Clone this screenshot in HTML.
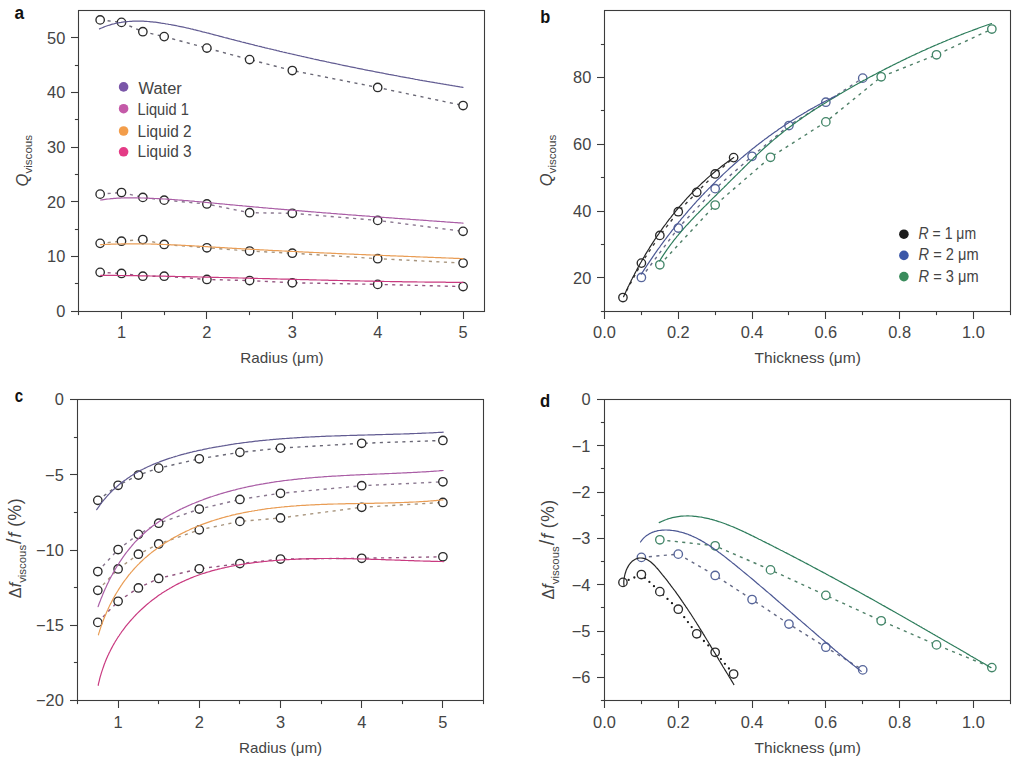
<!DOCTYPE html><html><head><meta charset="utf-8"><title>Figure</title><style>html,body{margin:0;padding:0;background:#fff;width:1024px;height:762px;overflow:hidden}svg{display:block}.tl{font-size:16.4px;fill:#444444}.lab{font-size:15px;fill:#444444}.lg{font-size:15px;fill:#444444}.pl{font-size:18px;font-weight:bold;fill:#111}text{font-family:"Liberation Sans", "DejaVu Sans", sans-serif}</style></head><body>
<svg width="1024" height="762" viewBox="0 0 1024 762">
<rect width="1024" height="762" fill="#fff"/>
<text x="14.4" y="18.6" class="pl" textLength="9.6" lengthAdjust="spacingAndGlyphs">a</text>
<text x="540.2" y="23.4" class="pl" textLength="10" lengthAdjust="spacingAndGlyphs">b</text>
<text x="14.8" y="401.6" class="pl" textLength="8.4" lengthAdjust="spacingAndGlyphs">c</text>
<text x="540.0" y="407.2" class="pl" textLength="10.2" lengthAdjust="spacingAndGlyphs">d</text>
<g stroke="#3c3c3c" stroke-width="1.1" fill="none">
<rect x="78.5" y="10.5" width="406" height="301" fill="none" stroke="#3c3c3c" stroke-width="1.1"/>
<rect x="604.5" y="10.5" width="406" height="301" fill="none" stroke="#3c3c3c" stroke-width="1.1"/>
<rect x="77.5" y="399.5" width="406" height="301" fill="none" stroke="#3c3c3c" stroke-width="1.1"/>
<rect x="604.5" y="399.5" width="406" height="301" fill="none" stroke="#3c3c3c" stroke-width="1.1"/>
</g>
<g stroke="#3c3c3c" stroke-width="1.1">
<line x1="121.5" y1="311.5" x2="121.5" y2="319"/>
<line x1="206.5" y1="311.5" x2="206.5" y2="319"/>
<line x1="292.5" y1="311.5" x2="292.5" y2="319"/>
<line x1="377.5" y1="311.5" x2="377.5" y2="319"/>
<line x1="463.5" y1="311.5" x2="463.5" y2="319"/>
<line x1="78.5" y1="311.5" x2="78.5" y2="315.1"/>
<line x1="164.5" y1="311.5" x2="164.5" y2="315.1"/>
<line x1="249.5" y1="311.5" x2="249.5" y2="315.1"/>
<line x1="335.5" y1="311.5" x2="335.5" y2="315.1"/>
<line x1="420.5" y1="311.5" x2="420.5" y2="315.1"/>
<line x1="71" y1="311.5" x2="78.5" y2="311.5"/>
<line x1="71" y1="256.5" x2="78.5" y2="256.5"/>
<line x1="71" y1="201.5" x2="78.5" y2="201.5"/>
<line x1="71" y1="147.5" x2="78.5" y2="147.5"/>
<line x1="71" y1="92.5" x2="78.5" y2="92.5"/>
<line x1="71" y1="37.5" x2="78.5" y2="37.5"/>
<line x1="74.9" y1="283.5" x2="78.5" y2="283.5"/>
<line x1="74.9" y1="229.5" x2="78.5" y2="229.5"/>
<line x1="74.9" y1="174.5" x2="78.5" y2="174.5"/>
<line x1="74.9" y1="119.5" x2="78.5" y2="119.5"/>
<line x1="74.9" y1="65.5" x2="78.5" y2="65.5"/>
<line x1="604.5" y1="311.5" x2="604.5" y2="319"/>
<line x1="678.5" y1="311.5" x2="678.5" y2="319"/>
<line x1="752.5" y1="311.5" x2="752.5" y2="319"/>
<line x1="825.5" y1="311.5" x2="825.5" y2="319"/>
<line x1="899.5" y1="311.5" x2="899.5" y2="319"/>
<line x1="973.5" y1="311.5" x2="973.5" y2="319"/>
<line x1="641.5" y1="311.5" x2="641.5" y2="315.1"/>
<line x1="715.5" y1="311.5" x2="715.5" y2="315.1"/>
<line x1="788.5" y1="311.5" x2="788.5" y2="315.1"/>
<line x1="862.5" y1="311.5" x2="862.5" y2="315.1"/>
<line x1="936.5" y1="311.5" x2="936.5" y2="315.1"/>
<line x1="1010.5" y1="311.5" x2="1010.5" y2="315.1"/>
<line x1="597" y1="277.5" x2="604.5" y2="277.5"/>
<line x1="597" y1="211.5" x2="604.5" y2="211.5"/>
<line x1="597" y1="144.5" x2="604.5" y2="144.5"/>
<line x1="597" y1="77.5" x2="604.5" y2="77.5"/>
<line x1="600.9" y1="311.5" x2="604.5" y2="311.5"/>
<line x1="600.9" y1="244.5" x2="604.5" y2="244.5"/>
<line x1="600.9" y1="177.5" x2="604.5" y2="177.5"/>
<line x1="600.9" y1="110.5" x2="604.5" y2="110.5"/>
<line x1="600.9" y1="44.5" x2="604.5" y2="44.5"/>
<line x1="118.5" y1="700.5" x2="118.5" y2="708"/>
<line x1="199.5" y1="700.5" x2="199.5" y2="708"/>
<line x1="280.5" y1="700.5" x2="280.5" y2="708"/>
<line x1="361.5" y1="700.5" x2="361.5" y2="708"/>
<line x1="442.5" y1="700.5" x2="442.5" y2="708"/>
<line x1="77.5" y1="700.5" x2="77.5" y2="704.1"/>
<line x1="158.5" y1="700.5" x2="158.5" y2="704.1"/>
<line x1="239.5" y1="700.5" x2="239.5" y2="704.1"/>
<line x1="321.5" y1="700.5" x2="321.5" y2="704.1"/>
<line x1="402.5" y1="700.5" x2="402.5" y2="704.1"/>
<line x1="483.5" y1="700.5" x2="483.5" y2="704.1"/>
<line x1="70" y1="399.5" x2="77.5" y2="399.5"/>
<line x1="70" y1="474.5" x2="77.5" y2="474.5"/>
<line x1="70" y1="550.5" x2="77.5" y2="550.5"/>
<line x1="70" y1="625.5" x2="77.5" y2="625.5"/>
<line x1="70" y1="700.5" x2="77.5" y2="700.5"/>
<line x1="73.9" y1="437.5" x2="77.5" y2="437.5"/>
<line x1="73.9" y1="512.5" x2="77.5" y2="512.5"/>
<line x1="73.9" y1="587.5" x2="77.5" y2="587.5"/>
<line x1="73.9" y1="662.5" x2="77.5" y2="662.5"/>
<line x1="604.5" y1="700.5" x2="604.5" y2="708"/>
<line x1="678.5" y1="700.5" x2="678.5" y2="708"/>
<line x1="752.5" y1="700.5" x2="752.5" y2="708"/>
<line x1="825.5" y1="700.5" x2="825.5" y2="708"/>
<line x1="899.5" y1="700.5" x2="899.5" y2="708"/>
<line x1="973.5" y1="700.5" x2="973.5" y2="708"/>
<line x1="641.5" y1="700.5" x2="641.5" y2="704.1"/>
<line x1="715.5" y1="700.5" x2="715.5" y2="704.1"/>
<line x1="788.5" y1="700.5" x2="788.5" y2="704.1"/>
<line x1="862.5" y1="700.5" x2="862.5" y2="704.1"/>
<line x1="936.5" y1="700.5" x2="936.5" y2="704.1"/>
<line x1="1010.5" y1="700.5" x2="1010.5" y2="704.1"/>
<line x1="597" y1="399.5" x2="604.5" y2="399.5"/>
<line x1="597" y1="445.5" x2="604.5" y2="445.5"/>
<line x1="597" y1="492.5" x2="604.5" y2="492.5"/>
<line x1="597" y1="538.5" x2="604.5" y2="538.5"/>
<line x1="597" y1="584.5" x2="604.5" y2="584.5"/>
<line x1="597" y1="631.5" x2="604.5" y2="631.5"/>
<line x1="597" y1="677.5" x2="604.5" y2="677.5"/>
<line x1="600.9" y1="422.5" x2="604.5" y2="422.5"/>
<line x1="600.9" y1="468.5" x2="604.5" y2="468.5"/>
<line x1="600.9" y1="515.5" x2="604.5" y2="515.5"/>
<line x1="600.9" y1="561.5" x2="604.5" y2="561.5"/>
<line x1="600.9" y1="607.5" x2="604.5" y2="607.5"/>
<line x1="600.9" y1="654.5" x2="604.5" y2="654.5"/>
<line x1="600.9" y1="700.5" x2="604.5" y2="700.5"/>
</g>
<text x="121.5" y="337.6" text-anchor="middle" class="tl">1</text>
<text x="206.9" y="337.6" text-anchor="middle" class="tl">2</text>
<text x="292.3" y="337.6" text-anchor="middle" class="tl">3</text>
<text x="377.7" y="337.6" text-anchor="middle" class="tl">4</text>
<text x="463.1" y="337.6" text-anchor="middle" class="tl">5</text>
<text x="65.3" y="317" text-anchor="end" class="tl">0</text>
<text x="65.3" y="262.3" text-anchor="end" class="tl">10</text>
<text x="65.3" y="207.6" text-anchor="end" class="tl">20</text>
<text x="65.3" y="152.9" text-anchor="end" class="tl">30</text>
<text x="65.3" y="98.2" text-anchor="end" class="tl">40</text>
<text x="65.3" y="43.5" text-anchor="end" class="tl">50</text>
<text x="604.5" y="337.6" text-anchor="middle" class="tl">0.0</text>
<text x="678.28" y="337.6" text-anchor="middle" class="tl">0.2</text>
<text x="752.06" y="337.6" text-anchor="middle" class="tl">0.4</text>
<text x="825.84" y="337.6" text-anchor="middle" class="tl">0.6</text>
<text x="899.62" y="337.6" text-anchor="middle" class="tl">0.8</text>
<text x="973.4" y="337.6" text-anchor="middle" class="tl">1.0</text>
<text x="591.3" y="283.61" text-anchor="end" class="tl">20</text>
<text x="591.3" y="216.83" text-anchor="end" class="tl">40</text>
<text x="591.3" y="150.05" text-anchor="end" class="tl">60</text>
<text x="591.3" y="83.27" text-anchor="end" class="tl">80</text>
<text x="118.1" y="728" text-anchor="middle" class="tl">1</text>
<text x="199.3" y="728" text-anchor="middle" class="tl">2</text>
<text x="280.5" y="728" text-anchor="middle" class="tl">3</text>
<text x="361.7" y="728" text-anchor="middle" class="tl">4</text>
<text x="442.9" y="728" text-anchor="middle" class="tl">5</text>
<text x="63.8" y="405.3" text-anchor="end" class="tl">0</text>
<text x="63.8" y="480.55" text-anchor="end" class="tl">−5</text>
<text x="63.8" y="555.8" text-anchor="end" class="tl">−10</text>
<text x="63.8" y="631.05" text-anchor="end" class="tl">−15</text>
<text x="63.8" y="706.3" text-anchor="end" class="tl">−20</text>
<text x="604.5" y="728" text-anchor="middle" class="tl">0.0</text>
<text x="678.28" y="728" text-anchor="middle" class="tl">0.2</text>
<text x="752.06" y="728" text-anchor="middle" class="tl">0.4</text>
<text x="825.84" y="728" text-anchor="middle" class="tl">0.6</text>
<text x="899.62" y="728" text-anchor="middle" class="tl">0.8</text>
<text x="973.4" y="728" text-anchor="middle" class="tl">1.0</text>
<text x="590.5" y="405.3" text-anchor="end" class="tl">0</text>
<text x="590.5" y="451.6" text-anchor="end" class="tl">−1</text>
<text x="590.5" y="497.9" text-anchor="end" class="tl">−2</text>
<text x="590.5" y="544.2" text-anchor="end" class="tl">−3</text>
<text x="590.5" y="590.5" text-anchor="end" class="tl">−4</text>
<text x="590.5" y="636.8" text-anchor="end" class="tl">−5</text>
<text x="590.5" y="683.1" text-anchor="end" class="tl">−6</text>
<text x="240.3" y="362.6" textLength="83.4" lengthAdjust="spacingAndGlyphs" class="lab">Radius (μm)</text>
<text x="754.6" y="362.6" textLength="106.3" lengthAdjust="spacingAndGlyphs" class="lab">Thickness (μm)</text>
<text x="239.1" y="753.4" textLength="83" lengthAdjust="spacingAndGlyphs" class="lab">Radius (μm)</text>
<text x="754.6" y="753.4" textLength="106.3" lengthAdjust="spacingAndGlyphs" class="lab">Thickness (μm)</text>
<text transform="translate(28.3 186.5) rotate(-90)" class="lab" style="font-size:16.6px"><tspan font-style="italic">Q</tspan><tspan style="font-size:11.6px" dy="3.9">viscous</tspan></text>
<text transform="translate(552.2 186.3) rotate(-90)" class="lab" style="font-size:16.6px"><tspan font-style="italic">Q</tspan><tspan style="font-size:11.6px" dy="3.9">viscous</tspan></text>
<text transform="translate(20.6 598.2) rotate(-90)" class="lab" style="font-size:16.2px">Δ<tspan font-style="italic">f</tspan><tspan style="font-size:11.4px" dy="5">viscous</tspan><tspan dy="-5" dx="1" style="font-size:19.5px">/</tspan><tspan dx="1" style="font-size:17.5px;letter-spacing:0.5px"><tspan font-style="italic">f</tspan> (%)</tspan></text>
<text transform="translate(554 599.6) rotate(-90)" class="lab" style="font-size:16.2px">Δ<tspan font-style="italic">f</tspan><tspan style="font-size:11.4px" dy="5">viscous</tspan><tspan dy="-5" dx="1" style="font-size:19.5px">/</tspan><tspan dx="1" style="font-size:17.5px;letter-spacing:0.5px"><tspan font-style="italic">f</tspan> (%)</tspan></text>
<circle cx="123.6" cy="86.9" r="4.8" fill="#7a56a8"/>
<text x="138.6" y="93.9" class="lg" style="font-size:15.8px" textLength="43.2" lengthAdjust="spacingAndGlyphs">Water</text>
<circle cx="123.6" cy="108.7" r="4.8" fill="#c45aa8"/>
<text x="137.6" y="114.8" class="lg" style="font-size:15.8px" textLength="51.2" lengthAdjust="spacingAndGlyphs">Liquid 1</text>
<circle cx="123.6" cy="131" r="4.8" fill="#f39d4a"/>
<text x="137.6" y="136.5" class="lg" style="font-size:15.8px" textLength="54" lengthAdjust="spacingAndGlyphs">Liquid 2</text>
<circle cx="123.6" cy="151.8" r="4.8" fill="#e43b86"/>
<text x="137.6" y="157.3" class="lg" style="font-size:15.8px" textLength="54" lengthAdjust="spacingAndGlyphs">Liquid 3</text>
<circle cx="903.9" cy="234.2" r="4.8" fill="#1c1c1c"/>
<text x="918.6" y="238.8" class="lg" style="font-size:16.2px" textLength="57.5" lengthAdjust="spacingAndGlyphs"><tspan font-style="italic">R</tspan> = 1 μm</text>
<circle cx="903.9" cy="255.4" r="4.8" fill="#3b57a8"/>
<text x="918.6" y="260.2" class="lg" style="font-size:16.2px" textLength="60" lengthAdjust="spacingAndGlyphs"><tspan font-style="italic">R</tspan> = 2 μm</text>
<circle cx="903.9" cy="276.6" r="4.8" fill="#3a8c5c"/>
<text x="918.6" y="281.6" class="lg" style="font-size:16.2px" textLength="60" lengthAdjust="spacingAndGlyphs"><tspan font-style="italic">R</tspan> = 3 μm</text>
<path d="M100.15 19.92 L121.5 22.38 L142.85 31.68 L164.2 36.61 L206.9 48.09 L249.6 59.58 L292.3 70.52 L377.7 87.48 L463.1 105.53" fill="none" stroke="#6a6876" stroke-width="1.4" stroke-dasharray="3.1 4.4"/>
<path d="M100.15 194.14 L121.5 192.5 L142.85 197.42 L164.2 200.16 L206.9 203.99 L249.6 212.74 L292.3 213.29 L377.7 220.4 L463.1 231.34" fill="none" stroke="#8a7890" stroke-width="1.4" stroke-dasharray="3.1 4.4"/>
<path d="M100.15 243.37 L121.5 241.18 L142.85 239.54 L164.2 244.47 L206.9 247.75 L249.6 251.03 L292.3 253.22 L377.7 258.69 L463.1 263.06" fill="none" stroke="#a8957e" stroke-width="1.4" stroke-dasharray="3.1 4.4"/>
<path d="M100.15 272.36 L121.5 273.46 L142.85 276.19 L164.2 276.19 L206.9 279.47 L249.6 280.57 L292.3 282.76 L377.7 284.4 L463.1 286.58" fill="none" stroke="#935680" stroke-width="1.4" stroke-dasharray="3.1 4.4"/>
<g fill="#fff" stroke="#2b2b2b" stroke-width="1.35"><circle cx="100.15" cy="19.92" r="4.2"/><circle cx="121.5" cy="22.38" r="4.2"/><circle cx="142.85" cy="31.68" r="4.2"/><circle cx="164.2" cy="36.61" r="4.2"/><circle cx="206.9" cy="48.09" r="4.2"/><circle cx="249.6" cy="59.58" r="4.2"/><circle cx="292.3" cy="70.52" r="4.2"/><circle cx="377.7" cy="87.48" r="4.2"/><circle cx="463.1" cy="105.53" r="4.2"/></g>
<g fill="#fff" stroke="#2b2b2b" stroke-width="1.35"><circle cx="100.15" cy="194.14" r="4.2"/><circle cx="121.5" cy="192.5" r="4.2"/><circle cx="142.85" cy="197.42" r="4.2"/><circle cx="164.2" cy="200.16" r="4.2"/><circle cx="206.9" cy="203.99" r="4.2"/><circle cx="249.6" cy="212.74" r="4.2"/><circle cx="292.3" cy="213.29" r="4.2"/><circle cx="377.7" cy="220.4" r="4.2"/><circle cx="463.1" cy="231.34" r="4.2"/></g>
<g fill="#fff" stroke="#2b2b2b" stroke-width="1.35"><circle cx="100.15" cy="243.37" r="4.2"/><circle cx="121.5" cy="241.18" r="4.2"/><circle cx="142.85" cy="239.54" r="4.2"/><circle cx="164.2" cy="244.47" r="4.2"/><circle cx="206.9" cy="247.75" r="4.2"/><circle cx="249.6" cy="251.03" r="4.2"/><circle cx="292.3" cy="253.22" r="4.2"/><circle cx="377.7" cy="258.69" r="4.2"/><circle cx="463.1" cy="263.06" r="4.2"/></g>
<g fill="#fff" stroke="#2b2b2b" stroke-width="1.35"><circle cx="100.15" cy="272.36" r="4.2"/><circle cx="121.5" cy="273.46" r="4.2"/><circle cx="142.85" cy="276.19" r="4.2"/><circle cx="164.2" cy="276.19" r="4.2"/><circle cx="206.9" cy="279.47" r="4.2"/><circle cx="249.6" cy="280.57" r="4.2"/><circle cx="292.3" cy="282.76" r="4.2"/><circle cx="377.7" cy="284.4" r="4.2"/><circle cx="463.1" cy="286.58" r="4.2"/></g>
<path d="M99.5 28.9 L100.9 28.3 L102.3 27.7 L103.7 27.1 L105.1 26.5 L106.6 26.0 L108.0 25.5 L109.5 25.1 L110.9 24.6 L112.3 24.2 L113.8 23.9 L115.3 23.5 L116.7 23.2 L118.2 22.9 L119.6 22.6 L121.1 22.4 L122.6 22.1 L124.1 21.9 L125.5 21.8 L127.0 21.6 L128.5 21.5 L130.0 21.4 L131.5 21.3 L132.9 21.2 L134.4 21.1 L135.9 21.1 L137.4 21.1 L138.9 21.1 L140.4 21.1 L141.9 21.2 L143.4 21.2 L144.9 21.3 L146.4 21.4 L147.9 21.5 L149.4 21.6 L150.9 21.8 L152.3 21.9 L153.8 22.1 L155.3 22.2 L156.8 22.4 L158.3 22.6 L159.8 22.8 L161.3 23.1 L162.8 23.3 L164.3 23.5 L165.8 23.8 L167.3 24.0 L168.8 24.3 L170.2 24.5 L171.7 24.8 L173.2 25.1 L174.7 25.4 L176.2 25.7 L177.6 26.0 L179.1 26.3 L180.6 26.6 L182.1 26.9 L183.5 27.2 L185.0 27.5 L186.5 27.9 L188.0 28.2 L189.4 28.5 L190.9 28.9 L192.4 29.2 L193.8 29.6 L195.3 29.9 L196.8 30.3 L198.2 30.7 L199.7 31.0 L201.1 31.4 L202.6 31.8 L204.1 32.1 L205.5 32.5 L207.0 32.9 L208.4 33.2 L209.9 33.6 L211.4 34.0 L212.8 34.4 L214.3 34.8 L215.7 35.2 L217.2 35.5 L218.6 35.9 L220.1 36.3 L221.6 36.7 L223.0 37.1 L224.5 37.5 L225.9 37.8 L227.4 38.2 L228.8 38.6 L230.3 39.0 L231.8 39.4 L233.2 39.7 L234.7 40.1 L236.1 40.5 L237.6 40.9 L239.1 41.2 L240.5 41.6 L242.0 42.0 L243.4 42.3 L244.9 42.7 L246.3 43.1 L247.8 43.4 L249.3 43.8 L250.7 44.2 L252.2 44.5 L253.7 44.9 L255.1 45.3 L256.6 45.6 L258.0 46.0 L259.5 46.3 L261.0 46.7 L262.4 47.1 L263.9 47.4 L265.3 47.8 L266.8 48.1 L268.3 48.5 L269.7 48.8 L271.2 49.2 L272.7 49.5 L274.1 49.9 L275.6 50.2 L277.0 50.6 L278.5 50.9 L280.0 51.3 L281.4 51.6 L282.9 52.0 L284.4 52.3 L285.8 52.6 L287.3 53.0 L288.8 53.3 L290.2 53.7 L291.7 54.0 L293.2 54.3 L294.6 54.7 L296.1 55.0 L297.6 55.4 L299.0 55.7 L300.5 56.0 L302.0 56.4 L303.4 56.7 L304.9 57.0 L306.4 57.3 L307.8 57.7 L309.3 58.0 L310.8 58.3 L312.2 58.6 L313.7 59.0 L315.2 59.3 L316.6 59.6 L318.1 59.9 L319.6 60.3 L321.0 60.6 L322.5 60.9 L324.0 61.2 L325.5 61.5 L326.9 61.9 L328.4 62.2 L329.9 62.5 L331.3 62.8 L332.8 63.1 L334.3 63.4 L335.7 63.7 L337.2 64.0 L338.7 64.3 L340.2 64.7 L341.6 65.0 L343.1 65.3 L344.6 65.6 L346.0 65.9 L347.5 66.2 L349.0 66.5 L350.5 66.8 L351.9 67.1 L353.4 67.4 L354.9 67.7 L356.4 68.0 L357.8 68.3 L359.3 68.6 L360.8 68.9 L362.3 69.2 L363.7 69.5 L365.2 69.8 L366.7 70.1 L368.2 70.4 L369.6 70.6 L371.1 70.9 L372.6 71.2 L374.1 71.5 L375.5 71.8 L377.0 72.1 L378.5 72.4 L380.0 72.7 L381.4 72.9 L382.9 73.2 L384.4 73.5 L385.9 73.8 L387.4 74.1 L388.8 74.4 L390.3 74.6 L391.8 74.9 L393.3 75.2 L394.8 75.5 L396.2 75.7 L397.7 76.0 L399.2 76.3 L400.7 76.6 L402.1 76.8 L403.6 77.1 L405.1 77.4 L406.6 77.7 L408.1 77.9 L409.6 78.2 L411.0 78.5 L412.5 78.7 L414.0 79.0 L415.5 79.3 L417.0 79.5 L418.4 79.8 L419.9 80.1 L421.4 80.3 L422.9 80.6 L424.4 80.8 L425.9 81.1 L427.3 81.4 L428.8 81.6 L430.3 81.9 L431.8 82.1 L433.3 82.4 L434.8 82.7 L436.2 82.9 L437.7 83.2 L439.2 83.4 L440.7 83.7 L442.2 83.9 L443.7 84.2 L445.2 84.4 L446.6 84.7 L448.1 84.9 L449.6 85.2 L451.1 85.4 L452.6 85.7 L454.1 85.9 L455.6 86.2 L457.0 86.4 L458.5 86.6 L460.0 86.9 L461.5 87.1 L463.0 87.4" fill="none" stroke="#625c92" stroke-width="1.2" stroke-linecap="round" stroke-linejoin="round"/>
<path d="M100.6 200.0 L102.1 199.8 L103.6 199.6 L105.1 199.4 L106.6 199.2 L108.1 199.0 L109.6 198.9 L111.1 198.7 L112.6 198.6 L114.0 198.4 L115.5 198.3 L117.0 198.2 L118.5 198.2 L120.0 198.1 L121.5 198.0 L123.0 198.0 L124.5 197.9 L126.0 197.9 L127.5 197.9 L129.0 197.8 L130.5 197.8 L132.0 197.8 L133.5 197.8 L135.0 197.9 L136.5 197.9 L138.0 197.9 L139.5 197.9 L141.0 198.0 L142.5 198.0 L144.0 198.0 L145.5 198.1 L147.0 198.1 L148.5 198.2 L150.0 198.3 L151.5 198.3 L153.0 198.4 L154.5 198.5 L156.0 198.5 L157.5 198.6 L159.0 198.7 L160.5 198.8 L162.0 198.9 L163.5 199.0 L165.0 199.0 L166.5 199.1 L168.0 199.2 L169.5 199.3 L171.0 199.4 L172.5 199.5 L174.0 199.6 L175.5 199.8 L177.0 199.9 L178.4 200.0 L179.9 200.1 L181.4 200.2 L182.9 200.3 L184.4 200.5 L185.9 200.6 L187.4 200.7 L188.9 200.8 L190.4 201.0 L191.9 201.1 L193.4 201.2 L194.9 201.4 L196.4 201.5 L197.9 201.6 L199.4 201.8 L200.9 201.9 L202.4 202.0 L203.9 202.2 L205.4 202.3 L206.9 202.5 L208.4 202.6 L209.9 202.8 L211.4 202.9 L212.9 203.0 L214.4 203.2 L215.9 203.3 L217.4 203.5 L218.9 203.6 L220.4 203.8 L221.9 203.9 L223.4 204.0 L224.9 204.2 L226.4 204.3 L227.9 204.5 L229.4 204.6 L230.9 204.8 L232.4 204.9 L233.9 205.0 L235.4 205.2 L236.9 205.3 L238.4 205.5 L239.9 205.6 L241.3 205.7 L242.8 205.9 L244.3 206.0 L245.8 206.1 L247.3 206.3 L248.8 206.4 L250.3 206.6 L251.8 206.7 L253.3 206.8 L254.8 207.0 L256.3 207.1 L257.8 207.2 L259.3 207.4 L260.8 207.5 L262.3 207.6 L263.8 207.8 L265.3 207.9 L266.8 208.0 L268.3 208.2 L269.8 208.3 L271.3 208.4 L272.8 208.5 L274.3 208.7 L275.8 208.8 L277.3 208.9 L278.8 209.1 L280.3 209.2 L281.8 209.3 L283.3 209.4 L284.8 209.6 L286.3 209.7 L287.8 209.8 L289.2 209.9 L290.7 210.1 L292.2 210.2 L293.7 210.3 L295.2 210.5 L296.7 210.6 L298.2 210.7 L299.7 210.8 L301.2 210.9 L302.7 211.1 L304.2 211.2 L305.7 211.3 L307.2 211.4 L308.7 211.6 L310.2 211.7 L311.7 211.8 L313.2 211.9 L314.7 212.0 L316.2 212.2 L317.7 212.3 L319.2 212.4 L320.7 212.5 L322.2 212.7 L323.7 212.8 L325.2 212.9 L326.7 213.0 L328.2 213.1 L329.7 213.2 L331.2 213.4 L332.7 213.5 L334.2 213.6 L335.7 213.7 L337.1 213.8 L338.6 214.0 L340.1 214.1 L341.6 214.2 L343.1 214.3 L344.6 214.4 L346.1 214.5 L347.6 214.7 L349.1 214.8 L350.6 214.9 L352.1 215.0 L353.6 215.1 L355.1 215.2 L356.6 215.3 L358.1 215.5 L359.6 215.6 L361.1 215.7 L362.6 215.8 L364.1 215.9 L365.6 216.0 L367.1 216.1 L368.6 216.2 L370.1 216.4 L371.6 216.5 L373.1 216.6 L374.6 216.7 L376.1 216.8 L377.6 216.9 L379.1 217.0 L380.6 217.1 L382.1 217.3 L383.6 217.4 L385.1 217.5 L386.6 217.6 L388.1 217.7 L389.6 217.8 L391.1 217.9 L392.6 218.0 L394.0 218.1 L395.5 218.3 L397.0 218.4 L398.5 218.5 L400.0 218.6 L401.5 218.7 L403.0 218.8 L404.5 218.9 L406.0 219.0 L407.5 219.1 L409.0 219.2 L410.5 219.4 L412.0 219.5 L413.5 219.6 L415.0 219.7 L416.5 219.8 L418.0 219.9 L419.5 220.0 L421.0 220.1 L422.5 220.2 L424.0 220.3 L425.5 220.4 L427.0 220.5 L428.5 220.7 L430.0 220.8 L431.5 220.9 L433.0 221.0 L434.5 221.1 L436.0 221.2 L437.5 221.3 L439.0 221.4 L440.5 221.5 L442.0 221.6 L443.5 221.7 L445.0 221.8 L446.5 222.0 L448.0 222.1 L449.5 222.2 L451.0 222.3 L452.5 222.4 L454.0 222.5 L455.5 222.6 L457.0 222.7 L458.5 222.8 L460.0 222.9 L461.5 223.0 L463.0 223.1" fill="none" stroke="#aa5ea6" stroke-width="1.2" stroke-linecap="round" stroke-linejoin="round"/>
<path d="M100.7 244.7 L102.2 244.6 L103.7 244.5 L105.2 244.5 L106.7 244.4 L108.2 244.3 L109.7 244.3 L111.2 244.2 L112.7 244.2 L114.2 244.1 L115.7 244.1 L117.2 244.0 L118.7 244.0 L120.2 244.0 L121.7 243.9 L123.2 243.9 L124.7 243.9 L126.2 243.9 L127.7 243.9 L129.2 243.8 L130.7 243.8 L132.2 243.8 L133.7 243.8 L135.2 243.8 L136.7 243.9 L138.2 243.9 L139.7 243.9 L141.2 243.9 L142.7 243.9 L144.2 243.9 L145.7 244.0 L147.2 244.0 L148.7 244.0 L150.2 244.0 L151.7 244.1 L153.3 244.1 L154.8 244.2 L156.3 244.2 L157.8 244.3 L159.3 244.3 L160.8 244.4 L162.3 244.4 L163.8 244.5 L165.3 244.5 L166.8 244.6 L168.3 244.6 L169.8 244.7 L171.3 244.8 L172.8 244.8 L174.3 244.9 L175.8 245.0 L177.3 245.0 L178.8 245.1 L180.3 245.2 L181.8 245.3 L183.3 245.3 L184.8 245.4 L186.3 245.5 L187.8 245.6 L189.3 245.7 L190.8 245.7 L192.3 245.8 L193.8 245.9 L195.3 246.0 L196.8 246.1 L198.3 246.2 L199.8 246.3 L201.3 246.3 L202.8 246.4 L204.3 246.5 L205.8 246.6 L207.3 246.7 L208.9 246.8 L210.4 246.9 L211.9 247.0 L213.4 247.1 L214.9 247.2 L216.4 247.3 L217.9 247.3 L219.4 247.4 L220.9 247.5 L222.4 247.6 L223.9 247.7 L225.4 247.8 L226.9 247.9 L228.4 248.0 L229.9 248.1 L231.4 248.2 L232.9 248.3 L234.4 248.3 L235.9 248.4 L237.4 248.5 L238.9 248.6 L240.4 248.7 L241.9 248.8 L243.4 248.9 L244.9 248.9 L246.4 249.0 L247.9 249.1 L249.4 249.2 L250.9 249.3 L252.4 249.4 L253.9 249.4 L255.5 249.5 L257.0 249.6 L258.5 249.7 L260.0 249.8 L261.5 249.9 L263.0 249.9 L264.5 250.0 L266.0 250.1 L267.5 250.2 L269.0 250.3 L270.5 250.3 L272.0 250.4 L273.5 250.5 L275.0 250.6 L276.5 250.6 L278.0 250.7 L279.5 250.8 L281.0 250.9 L282.5 251.0 L284.0 251.0 L285.5 251.1 L287.0 251.2 L288.5 251.3 L290.0 251.3 L291.5 251.4 L293.0 251.5 L294.5 251.5 L296.0 251.6 L297.6 251.7 L299.1 251.8 L300.6 251.8 L302.1 251.9 L303.6 252.0 L305.1 252.1 L306.6 252.1 L308.1 252.2 L309.6 252.3 L311.1 252.3 L312.6 252.4 L314.1 252.5 L315.6 252.5 L317.1 252.6 L318.6 252.7 L320.1 252.8 L321.6 252.8 L323.1 252.9 L324.6 253.0 L326.1 253.0 L327.6 253.1 L329.1 253.2 L330.6 253.2 L332.1 253.3 L333.6 253.4 L335.1 253.4 L336.7 253.5 L338.2 253.6 L339.7 253.6 L341.2 253.7 L342.7 253.8 L344.2 253.8 L345.7 253.9 L347.2 254.0 L348.7 254.0 L350.2 254.1 L351.7 254.1 L353.2 254.2 L354.7 254.3 L356.2 254.3 L357.7 254.4 L359.2 254.5 L360.7 254.5 L362.2 254.6 L363.7 254.7 L365.2 254.7 L366.7 254.8 L368.2 254.8 L369.7 254.9 L371.2 255.0 L372.8 255.0 L374.3 255.1 L375.8 255.2 L377.3 255.2 L378.8 255.3 L380.3 255.3 L381.8 255.4 L383.3 255.5 L384.8 255.5 L386.3 255.6 L387.8 255.6 L389.3 255.7 L390.8 255.8 L392.3 255.8 L393.8 255.9 L395.3 255.9 L396.8 256.0 L398.3 256.1 L399.8 256.1 L401.3 256.2 L402.8 256.2 L404.3 256.3 L405.8 256.4 L407.3 256.4 L408.9 256.5 L410.4 256.5 L411.9 256.6 L413.4 256.7 L414.9 256.7 L416.4 256.8 L417.9 256.8 L419.4 256.9 L420.9 257.0 L422.4 257.0 L423.9 257.1 L425.4 257.1 L426.9 257.2 L428.4 257.3 L429.9 257.3 L431.4 257.4 L432.9 257.4 L434.4 257.5 L435.9 257.6 L437.4 257.6 L438.9 257.7 L440.4 257.7 L441.9 257.8 L443.4 257.9 L445.0 257.9 L446.5 258.0 L448.0 258.0 L449.5 258.1 L451.0 258.1 L452.5 258.2 L454.0 258.3 L455.5 258.3 L457.0 258.4 L458.5 258.4 L460.0 258.5 L461.5 258.6 L463.0 258.6" fill="none" stroke="#e99d55" stroke-width="1.2" stroke-linecap="round" stroke-linejoin="round"/>
<path d="M100.7 275.3 L102.2 275.3 L103.7 275.3 L105.2 275.3 L106.7 275.3 L108.2 275.3 L109.7 275.4 L111.2 275.4 L112.7 275.4 L114.2 275.4 L115.7 275.4 L117.2 275.4 L118.7 275.5 L120.2 275.5 L121.7 275.5 L123.2 275.5 L124.8 275.5 L126.3 275.6 L127.8 275.6 L129.3 275.6 L130.8 275.6 L132.3 275.7 L133.8 275.7 L135.3 275.7 L136.8 275.7 L138.3 275.8 L139.8 275.8 L141.3 275.8 L142.8 275.8 L144.3 275.9 L145.8 275.9 L147.3 275.9 L148.8 275.9 L150.3 276.0 L151.8 276.0 L153.3 276.0 L154.8 276.0 L156.3 276.1 L157.8 276.1 L159.3 276.1 L160.8 276.2 L162.3 276.2 L163.8 276.2 L165.3 276.2 L166.8 276.3 L168.3 276.3 L169.8 276.3 L171.3 276.4 L172.9 276.4 L174.4 276.4 L175.9 276.5 L177.4 276.5 L178.9 276.5 L180.4 276.5 L181.9 276.6 L183.4 276.6 L184.9 276.6 L186.4 276.7 L187.9 276.7 L189.4 276.7 L190.9 276.8 L192.4 276.8 L193.9 276.9 L195.4 276.9 L196.9 276.9 L198.4 277.0 L199.9 277.0 L201.4 277.0 L202.9 277.1 L204.4 277.1 L205.9 277.1 L207.4 277.2 L208.9 277.2 L210.4 277.2 L211.9 277.3 L213.4 277.3 L214.9 277.3 L216.4 277.4 L217.9 277.4 L219.5 277.5 L221.0 277.5 L222.5 277.5 L224.0 277.6 L225.5 277.6 L227.0 277.6 L228.5 277.7 L230.0 277.7 L231.5 277.8 L233.0 277.8 L234.5 277.8 L236.0 277.9 L237.5 277.9 L239.0 278.0 L240.5 278.0 L242.0 278.0 L243.5 278.1 L245.0 278.1 L246.5 278.1 L248.0 278.2 L249.5 278.2 L251.0 278.3 L252.5 278.3 L254.0 278.3 L255.5 278.4 L257.0 278.4 L258.5 278.5 L260.0 278.5 L261.5 278.5 L263.0 278.6 L264.5 278.6 L266.0 278.7 L267.6 278.7 L269.1 278.7 L270.6 278.8 L272.1 278.8 L273.6 278.9 L275.1 278.9 L276.6 278.9 L278.1 279.0 L279.6 279.0 L281.1 279.1 L282.6 279.1 L284.1 279.1 L285.6 279.2 L287.1 279.2 L288.6 279.2 L290.1 279.3 L291.6 279.3 L293.1 279.4 L294.6 279.4 L296.1 279.4 L297.6 279.5 L299.1 279.5 L300.6 279.6 L302.1 279.6 L303.6 279.6 L305.1 279.7 L306.6 279.7 L308.1 279.7 L309.6 279.8 L311.1 279.8 L312.7 279.9 L314.2 279.9 L315.7 279.9 L317.2 280.0 L318.7 280.0 L320.2 280.0 L321.7 280.1 L323.2 280.1 L324.7 280.2 L326.2 280.2 L327.7 280.2 L329.2 280.3 L330.7 280.3 L332.2 280.3 L333.7 280.4 L335.2 280.4 L336.7 280.4 L338.2 280.5 L339.7 280.5 L341.2 280.5 L342.7 280.6 L344.2 280.6 L345.7 280.7 L347.2 280.7 L348.7 280.7 L350.2 280.8 L351.7 280.8 L353.2 280.8 L354.7 280.9 L356.2 280.9 L357.8 280.9 L359.3 280.9 L360.8 281.0 L362.3 281.0 L363.8 281.0 L365.3 281.1 L366.8 281.1 L368.3 281.1 L369.8 281.2 L371.3 281.2 L372.8 281.2 L374.3 281.3 L375.8 281.3 L377.3 281.3 L378.8 281.3 L380.3 281.4 L381.8 281.4 L383.3 281.4 L384.8 281.5 L386.3 281.5 L387.8 281.5 L389.3 281.5 L390.8 281.6 L392.3 281.6 L393.8 281.6 L395.3 281.6 L396.8 281.7 L398.3 281.7 L399.9 281.7 L401.4 281.7 L402.9 281.8 L404.4 281.8 L405.9 281.8 L407.4 281.8 L408.9 281.8 L410.4 281.9 L411.9 281.9 L413.4 281.9 L414.9 281.9 L416.4 281.9 L417.9 282.0 L419.4 282.0 L420.9 282.0 L422.4 282.0 L423.9 282.0 L425.4 282.1 L426.9 282.1 L428.4 282.1 L429.9 282.1 L431.4 282.1 L432.9 282.1 L434.4 282.2 L435.9 282.2 L437.4 282.2 L438.9 282.2 L440.4 282.2 L441.9 282.2 L443.5 282.2 L445.0 282.2 L446.5 282.3 L448.0 282.3 L449.5 282.3 L451.0 282.3 L452.5 282.3 L454.0 282.3 L455.5 282.3 L457.0 282.3 L458.5 282.3 L460.0 282.3 L461.5 282.3 L463.0 282.3" fill="none" stroke="#c93a80" stroke-width="1.2" stroke-linecap="round" stroke-linejoin="round"/>
<path d="M659.84 264.79 L715.17 205.02 L770.5 157.27 L825.84 121.88 L881.17 76.8 L936.51 54.76 L991.85 29.05" fill="none" stroke="#4f8068" stroke-width="1.4" stroke-dasharray="3.1 4.4"/>
<path d="M641.39 277.48 L678.28 228.06 L715.17 188.66 L752.06 156.27 L788.95 125.55 L825.84 102.18 L862.73 78.14" fill="none" stroke="#656a86" stroke-width="1.4" stroke-dasharray="3.1 4.4"/>
<path d="M622.95 297.51 L641.39 263.12 L659.84 235.4 L678.28 211.7 L696.73 192.33 L715.17 173.97 L733.62 157.61" fill="none" stroke="#3a3a3a" stroke-width="1.4" stroke-dasharray="3.1 4.4"/>
<g fill="#fff" stroke="#438669" stroke-width="1.35"><circle cx="659.84" cy="264.79" r="4.2"/><circle cx="715.17" cy="205.02" r="4.2"/><circle cx="770.5" cy="157.27" r="4.2"/><circle cx="825.84" cy="121.88" r="4.2"/><circle cx="881.17" cy="76.8" r="4.2"/><circle cx="936.51" cy="54.76" r="4.2"/><circle cx="991.85" cy="29.05" r="4.2"/></g>
<g fill="#fff" stroke="#56659a" stroke-width="1.35"><circle cx="641.39" cy="277.48" r="4.2"/><circle cx="678.28" cy="228.06" r="4.2"/><circle cx="715.17" cy="188.66" r="4.2"/><circle cx="752.06" cy="156.27" r="4.2"/><circle cx="788.95" cy="125.55" r="4.2"/><circle cx="825.84" cy="102.18" r="4.2"/><circle cx="862.73" cy="78.14" r="4.2"/></g>
<g fill="#fff" stroke="#2b2b2b" stroke-width="1.35"><circle cx="622.95" cy="297.51" r="4.2"/><circle cx="641.39" cy="263.12" r="4.2"/><circle cx="659.84" cy="235.4" r="4.2"/><circle cx="678.28" cy="211.7" r="4.2"/><circle cx="696.73" cy="192.33" r="4.2"/><circle cx="715.17" cy="173.97" r="4.2"/><circle cx="733.62" cy="157.61" r="4.2"/></g>
<path d="M659.6 261.0 L660.4 259.7 L661.2 258.4 L662.0 257.1 L662.8 255.9 L663.6 254.6 L664.5 253.3 L665.3 252.1 L666.2 250.8 L667.0 249.6 L667.9 248.4 L668.8 247.1 L669.7 245.9 L670.6 244.7 L671.5 243.5 L672.4 242.3 L673.3 241.1 L674.2 239.9 L675.1 238.8 L676.1 237.6 L677.0 236.4 L678.0 235.3 L678.9 234.1 L679.9 233.0 L680.9 231.8 L681.9 230.7 L682.9 229.6 L683.8 228.4 L684.8 227.3 L685.8 226.2 L686.8 225.1 L687.9 224.0 L688.9 222.9 L689.9 221.8 L690.9 220.7 L691.9 219.6 L693.0 218.5 L694.0 217.4 L695.0 216.3 L696.1 215.2 L697.1 214.1 L698.2 213.1 L699.2 212.0 L700.3 210.9 L701.3 209.8 L702.4 208.8 L703.4 207.7 L704.5 206.6 L705.6 205.6 L706.6 204.5 L707.7 203.5 L708.8 202.4 L709.8 201.3 L710.9 200.3 L712.0 199.2 L713.0 198.2 L714.1 197.1 L715.2 196.0 L716.3 195.0 L717.3 193.9 L718.4 192.9 L719.5 191.8 L720.5 190.8 L721.6 189.7 L722.7 188.6 L723.8 187.6 L724.8 186.5 L725.9 185.5 L727.0 184.4 L728.0 183.3 L729.1 182.3 L730.2 181.2 L731.2 180.2 L732.3 179.1 L733.4 178.0 L734.4 177.0 L735.5 175.9 L736.6 174.9 L737.6 173.8 L738.7 172.7 L739.8 171.7 L740.8 170.6 L741.9 169.6 L743.0 168.5 L744.0 167.5 L745.1 166.4 L746.2 165.3 L747.2 164.3 L748.3 163.2 L749.4 162.2 L750.5 161.1 L751.5 160.1 L752.6 159.1 L753.7 158.0 L754.8 157.0 L755.9 156.0 L757.0 154.9 L758.0 153.9 L759.1 152.9 L760.2 151.8 L761.3 150.8 L762.4 149.8 L763.5 148.8 L764.6 147.8 L765.7 146.8 L766.9 145.8 L768.0 144.8 L769.1 143.8 L770.2 142.8 L771.4 141.8 L772.5 140.9 L773.6 139.9 L774.8 138.9 L775.9 138.0 L777.1 137.0 L778.2 136.0 L779.4 135.1 L780.5 134.2 L781.7 133.2 L782.9 132.3 L784.0 131.4 L785.2 130.4 L786.4 129.5 L787.6 128.6 L788.8 127.7 L790.0 126.8 L791.2 125.9 L792.4 125.0 L793.6 124.1 L794.8 123.2 L796.0 122.3 L797.2 121.5 L798.4 120.6 L799.7 119.7 L800.9 118.9 L802.1 118.0 L803.4 117.1 L804.6 116.3 L805.8 115.5 L807.1 114.6 L808.3 113.8 L809.6 112.9 L810.8 112.1 L812.1 111.3 L813.4 110.5 L814.6 109.6 L815.9 108.8 L817.1 108.0 L818.4 107.2 L819.7 106.4 L821.0 105.6 L822.2 104.8 L823.5 104.0 L824.8 103.2 L826.1 102.4 L827.4 101.6 L828.6 100.8 L829.9 100.0 L831.2 99.2 L832.5 98.5 L833.8 97.7 L835.1 96.9 L836.4 96.1 L837.7 95.4 L839.0 94.6 L840.3 93.8 L841.6 93.1 L842.9 92.3 L844.2 91.5 L845.5 90.8 L846.8 90.0 L848.1 89.3 L849.4 88.5 L850.7 87.8 L852.0 87.0 L853.3 86.3 L854.6 85.5 L855.9 84.8 L857.2 84.1 L858.6 83.3 L859.9 82.6 L861.2 81.9 L862.5 81.1 L863.8 80.4 L865.2 79.7 L866.5 79.0 L867.8 78.2 L869.1 77.5 L870.4 76.8 L871.8 76.1 L873.1 75.4 L874.4 74.7 L875.8 74.0 L877.1 73.3 L878.4 72.6 L879.7 71.9 L881.1 71.2 L882.4 70.5 L883.8 69.8 L885.1 69.1 L886.4 68.4 L887.8 67.7 L889.1 67.1 L890.4 66.4 L891.8 65.7 L893.1 65.0 L894.5 64.4 L895.8 63.7 L897.2 63.0 L898.5 62.4 L899.9 61.7 L901.2 61.0 L902.6 60.4 L903.9 59.7 L905.3 59.1 L906.6 58.4 L908.0 57.8 L909.4 57.1 L910.7 56.5 L912.1 55.8 L913.4 55.2 L914.8 54.6 L916.2 53.9 L917.5 53.3 L918.9 52.7 L920.3 52.0 L921.6 51.4 L923.0 50.8 L924.4 50.2 L925.7 49.6 L927.1 48.9 L928.5 48.3 L929.9 47.7 L931.2 47.1 L932.6 46.5 L934.0 45.9 L935.4 45.3 L936.8 44.7 L938.1 44.1 L939.5 43.5 L940.9 43.0 L942.3 42.4 L943.7 41.8 L945.1 41.2 L946.4 40.6 L947.8 40.0 L949.2 39.5 L950.6 38.9 L952.0 38.3 L953.4 37.8 L954.8 37.2 L956.2 36.6 L957.6 36.1 L959.0 35.5 L960.4 35.0 L961.8 34.4 L963.2 33.9 L964.6 33.3 L966.0 32.8 L967.4 32.3 L968.8 31.7 L970.2 31.2 L971.6 30.7 L973.1 30.1 L974.5 29.6 L975.9 29.1 L977.3 28.6 L978.7 28.0 L980.1 27.5 L981.5 27.0 L983.0 26.5 L984.4 26.0 L985.8 25.5 L987.2 25.0 L988.7 24.5 L990.1 24.0 L991.5 23.5" fill="none" stroke="#2e7d5c" stroke-width="1.2" stroke-linecap="round" stroke-linejoin="round"/>
<path d="M641.3 274.2 L642.1 272.9 L642.9 271.7 L643.7 270.4 L644.5 269.1 L645.3 267.9 L646.2 266.6 L647.0 265.3 L647.8 264.1 L648.7 262.8 L649.5 261.6 L650.4 260.3 L651.2 259.1 L652.1 257.8 L652.9 256.6 L653.8 255.4 L654.6 254.1 L655.5 252.9 L656.4 251.7 L657.2 250.4 L658.1 249.2 L659.0 248.0 L659.9 246.8 L660.7 245.5 L661.6 244.3 L662.5 243.1 L663.4 241.9 L664.3 240.7 L665.2 239.5 L666.1 238.3 L667.0 237.1 L667.9 235.9 L668.9 234.7 L669.8 233.5 L670.7 232.3 L671.6 231.1 L672.5 229.9 L673.5 228.8 L674.4 227.6 L675.3 226.4 L676.3 225.2 L677.2 224.1 L678.2 222.9 L679.1 221.7 L680.1 220.6 L681.0 219.4 L682.0 218.2 L683.0 217.1 L683.9 215.9 L684.9 214.8 L685.9 213.6 L686.9 212.5 L687.8 211.4 L688.8 210.2 L689.8 209.1 L690.8 208.0 L691.8 206.8 L692.8 205.7 L693.8 204.6 L694.8 203.5 L695.8 202.4 L696.8 201.2 L697.8 200.1 L698.9 199.0 L699.9 197.9 L700.9 196.8 L701.9 195.7 L703.0 194.6 L704.0 193.5 L705.0 192.4 L706.1 191.4 L707.1 190.3 L708.2 189.2 L709.2 188.1 L710.3 187.1 L711.3 186.0 L712.4 184.9 L713.4 183.9 L714.5 182.8 L715.6 181.7 L716.6 180.7 L717.7 179.6 L718.8 178.6 L719.9 177.6 L721.0 176.5 L722.0 175.5 L723.1 174.4 L724.2 173.4 L725.3 172.4 L726.4 171.4 L727.5 170.4 L728.6 169.3 L729.7 168.3 L730.8 167.3 L732.0 166.3 L733.1 165.3 L734.2 164.3 L735.3 163.3 L736.5 162.3 L737.6 161.3 L738.7 160.4 L739.9 159.4 L741.0 158.4 L742.1 157.4 L743.3 156.5 L744.4 155.5 L745.6 154.5 L746.7 153.6 L747.9 152.6 L749.1 151.7 L750.2 150.7 L751.4 149.8 L752.6 148.8 L753.7 147.9 L754.9 147.0 L756.1 146.0 L757.3 145.1 L758.4 144.2 L759.6 143.3 L760.8 142.4 L762.0 141.5 L763.2 140.6 L764.4 139.6 L765.6 138.8 L766.8 137.9 L768.0 137.0 L769.2 136.1 L770.5 135.2 L771.7 134.3 L772.9 133.4 L774.1 132.6 L775.3 131.7 L776.6 130.9 L777.8 130.0 L779.0 129.1 L780.3 128.3 L781.5 127.4 L782.8 126.6 L784.0 125.8 L785.3 124.9 L786.5 124.1 L787.8 123.3 L789.0 122.5 L790.3 121.6 L791.6 120.8 L792.8 120.0 L794.1 119.2 L795.4 118.4 L796.6 117.6 L797.9 116.8 L799.2 116.0 L800.5 115.3 L801.8 114.5 L803.1 113.7 L804.3 112.9 L805.6 112.2 L806.9 111.4 L808.2 110.6 L809.5 109.9 L810.8 109.1 L812.2 108.4 L813.5 107.7 L814.8 106.9 L816.1 106.2 L817.4 105.5 L818.7 104.7 L820.1 104.0 L821.4 103.3 L822.7 102.6 L824.1 101.9 L825.4 101.2 L826.7 100.5 L828.1 99.8 L829.4 99.1 L830.8 98.5 L832.1 97.8 L833.5 97.1 L834.8 96.4 L836.2 95.8" fill="none" stroke="#4b5793" stroke-width="1.2" stroke-linecap="round" stroke-linejoin="round"/>
<path d="M623.6 296.7 L624.2 295.3 L624.8 293.9 L625.5 292.6 L626.1 291.2 L626.7 289.8 L627.4 288.5 L628.0 287.1 L628.7 285.8 L629.3 284.4 L630.0 283.0 L630.7 281.7 L631.3 280.3 L632.0 279.0 L632.7 277.6 L633.4 276.3 L634.1 275.0 L634.8 273.6 L635.5 272.3 L636.2 271.0 L636.9 269.6 L637.6 268.3 L638.3 267.0 L639.1 265.6 L639.8 264.3 L640.5 263.0 L641.3 261.7 L642.0 260.4 L642.8 259.1 L643.5 257.8 L644.3 256.5 L645.0 255.2 L645.8 253.9 L646.6 252.6 L647.4 251.3 L648.2 250.0 L649.0 248.7 L649.8 247.4 L650.6 246.1 L651.4 244.9 L652.2 243.6 L653.0 242.3 L653.8 241.1 L654.6 239.8 L655.5 238.5 L656.3 237.3 L657.2 236.0 L658.0 234.8 L658.9 233.6 L659.7 232.3 L660.6 231.1 L661.5 229.8 L662.3 228.6 L663.2 227.4 L664.1 226.2 L665.0 225.0 L665.9 223.8 L666.8 222.5 L667.7 221.3 L668.6 220.1 L669.5 218.9 L670.5 217.8 L671.4 216.6 L672.3 215.4 L673.3 214.2 L674.2 213.0 L675.2 211.9 L676.1 210.7 L677.1 209.5 L678.0 208.4 L679.0 207.2 L680.0 206.1 L681.0 205.0 L682.0 203.8 L683.0 202.7 L684.0 201.6 L685.0 200.4 L686.0 199.3 L687.0 198.2 L688.0 197.1 L689.1 196.0 L690.1 194.9 L691.1 193.8 L692.2 192.7 L693.2 191.7 L694.3 190.6 L695.3 189.5 L696.4 188.5 L697.5 187.4 L698.6 186.4 L699.7 185.3 L700.7 184.3 L701.8 183.2 L702.9 182.2 L704.1 181.2 L705.2 180.2 L706.3 179.1 L707.4 178.1 L708.5 177.1 L709.7 176.1 L710.8 175.2 L712.0 174.2 L713.1 173.2 L714.3 172.2 L715.5 171.3 L716.6 170.3 L717.8 169.4 L719.0 168.4 L720.2 167.5 L721.4 166.5 L722.6 165.6 L723.8 164.7 L725.0 163.8 L726.2 162.9 L727.4 162.0 L728.7 161.1 L729.9 160.2 L731.2 159.3 L732.4 158.4 L733.7 157.6" fill="none" stroke="#262626" stroke-width="1.2" stroke-linecap="round" stroke-linejoin="round"/>
<path d="M97.8 500.34 L118.1 485.29 L138.4 475.05 L158.7 468.13 L199.3 458.8 L239.9 452.33 L280.5 448.11 L361.7 443.3 L442.9 440.44" fill="none" stroke="#6a6876" stroke-width="1.4" stroke-dasharray="3.1 4.4"/>
<path d="M97.8 571.52 L118.1 549.55 L138.4 534.35 L158.7 523.21 L199.3 509.06 L239.9 499.43 L280.5 493.26 L361.7 485.74 L442.9 481.82" fill="none" stroke="#8a7890" stroke-width="1.4" stroke-dasharray="3.1 4.4"/>
<path d="M97.8 590.33 L118.1 568.96 L138.4 554.21 L158.7 543.98 L199.3 529.83 L239.9 521.4 L280.5 517.94 L361.7 507.26 L442.9 502.44" fill="none" stroke="#a8957e" stroke-width="1.4" stroke-dasharray="3.1 4.4"/>
<path d="M97.8 622.39 L118.1 601.32 L138.4 587.93 L158.7 578.44 L199.3 568.81 L239.9 563.55 L280.5 559.03 L361.7 558.28 L442.9 556.77" fill="none" stroke="#935680" stroke-width="1.4" stroke-dasharray="3.1 4.4"/>
<g fill="#fff" stroke="#2b2b2b" stroke-width="1.35"><circle cx="97.8" cy="500.34" r="4.2"/><circle cx="118.1" cy="485.29" r="4.2"/><circle cx="138.4" cy="475.05" r="4.2"/><circle cx="158.7" cy="468.13" r="4.2"/><circle cx="199.3" cy="458.8" r="4.2"/><circle cx="239.9" cy="452.33" r="4.2"/><circle cx="280.5" cy="448.11" r="4.2"/><circle cx="361.7" cy="443.3" r="4.2"/><circle cx="442.9" cy="440.44" r="4.2"/></g>
<g fill="#fff" stroke="#2b2b2b" stroke-width="1.35"><circle cx="97.8" cy="571.52" r="4.2"/><circle cx="118.1" cy="549.55" r="4.2"/><circle cx="138.4" cy="534.35" r="4.2"/><circle cx="158.7" cy="523.21" r="4.2"/><circle cx="199.3" cy="509.06" r="4.2"/><circle cx="239.9" cy="499.43" r="4.2"/><circle cx="280.5" cy="493.26" r="4.2"/><circle cx="361.7" cy="485.74" r="4.2"/><circle cx="442.9" cy="481.82" r="4.2"/></g>
<g fill="#fff" stroke="#2b2b2b" stroke-width="1.35"><circle cx="97.8" cy="590.33" r="4.2"/><circle cx="118.1" cy="568.96" r="4.2"/><circle cx="138.4" cy="554.21" r="4.2"/><circle cx="158.7" cy="543.98" r="4.2"/><circle cx="199.3" cy="529.83" r="4.2"/><circle cx="239.9" cy="521.4" r="4.2"/><circle cx="280.5" cy="517.94" r="4.2"/><circle cx="361.7" cy="507.26" r="4.2"/><circle cx="442.9" cy="502.44" r="4.2"/></g>
<g fill="#fff" stroke="#2b2b2b" stroke-width="1.35"><circle cx="97.8" cy="622.39" r="4.2"/><circle cx="118.1" cy="601.32" r="4.2"/><circle cx="138.4" cy="587.93" r="4.2"/><circle cx="158.7" cy="578.44" r="4.2"/><circle cx="199.3" cy="568.81" r="4.2"/><circle cx="239.9" cy="563.55" r="4.2"/><circle cx="280.5" cy="559.03" r="4.2"/><circle cx="361.7" cy="558.28" r="4.2"/><circle cx="442.9" cy="556.77" r="4.2"/></g>
<path d="M96.7 509.7 L97.6 508.4 L98.5 507.1 L99.4 505.8 L100.3 504.5 L101.2 503.3 L102.2 502.0 L103.1 500.8 L104.1 499.6 L105.1 498.5 L106.1 497.3 L107.1 496.2 L108.1 495.0 L109.2 493.9 L110.2 492.8 L111.3 491.8 L112.4 490.7 L113.4 489.7 L114.5 488.7 L115.6 487.7 L116.8 486.7 L117.9 485.7 L119.0 484.8 L120.2 483.8 L121.3 482.9 L122.5 482.0 L123.7 481.1 L124.9 480.2 L126.1 479.4 L127.3 478.5 L128.5 477.7 L129.7 476.9 L130.9 476.1 L132.2 475.3 L133.4 474.5 L134.7 473.7 L136.0 473.0 L137.3 472.3 L138.5 471.5 L139.8 470.8 L141.1 470.1 L142.4 469.5 L143.8 468.8 L145.1 468.1 L146.4 467.5 L147.8 466.8 L149.1 466.2 L150.5 465.6 L151.8 465.0 L153.2 464.4 L154.5 463.9 L155.9 463.3 L157.3 462.7 L158.7 462.2 L160.1 461.6 L161.5 461.1 L162.9 460.6 L164.3 460.1 L165.7 459.6 L167.1 459.1 L168.5 458.6 L170.0 458.2 L171.4 457.7 L172.8 457.3 L174.3 456.8 L175.7 456.4 L177.2 456.0 L178.6 455.5 L180.1 455.1 L181.5 454.7 L183.0 454.3 L184.4 453.9 L185.9 453.6 L187.4 453.2 L188.8 452.8 L190.3 452.4 L191.8 452.1 L193.2 451.7 L194.7 451.4 L196.2 451.1 L197.7 450.7 L199.2 450.4 L200.6 450.1 L202.1 449.8 L203.6 449.4 L205.1 449.1 L206.6 448.8 L208.0 448.5 L209.5 448.2 L211.0 448.0 L212.5 447.7 L214.0 447.4 L215.5 447.1 L216.9 446.8 L218.4 446.6 L219.9 446.3 L221.4 446.1 L222.9 445.8 L224.4 445.6 L225.9 445.3 L227.4 445.1 L228.8 444.8 L230.3 444.6 L231.8 444.4 L233.3 444.2 L234.8 443.9 L236.3 443.7 L237.8 443.5 L239.3 443.3 L240.8 443.1 L242.3 442.9 L243.8 442.7 L245.3 442.5 L246.7 442.3 L248.2 442.1 L249.7 441.9 L251.2 441.8 L252.7 441.6 L254.2 441.4 L255.7 441.2 L257.2 441.1 L258.7 440.9 L260.2 440.7 L261.7 440.6 L263.2 440.4 L264.7 440.3 L266.2 440.1 L267.7 440.0 L269.2 439.9 L270.7 439.7 L272.2 439.6 L273.7 439.4 L275.2 439.3 L276.7 439.2 L278.2 439.1 L279.7 438.9 L281.2 438.8 L282.7 438.7 L284.2 438.6 L285.7 438.5 L287.2 438.4 L288.7 438.3 L290.2 438.2 L291.7 438.1 L293.2 438.0 L294.7 437.9 L296.2 437.8 L297.7 437.7 L299.2 437.6 L300.7 437.5 L302.2 437.4 L303.7 437.3 L305.3 437.2 L306.8 437.2 L308.3 437.1 L309.8 437.0 L311.3 436.9 L312.8 436.8 L314.3 436.8 L315.8 436.7 L317.3 436.6 L318.8 436.6 L320.3 436.5 L321.8 436.4 L323.3 436.4 L324.8 436.3 L326.3 436.2 L327.8 436.2 L329.3 436.1 L330.8 436.1 L332.3 436.0 L333.8 436.0 L335.3 435.9 L336.9 435.9 L338.4 435.8 L339.9 435.8 L341.4 435.7 L342.9 435.7 L344.4 435.6 L345.9 435.6 L347.4 435.5 L348.9 435.5 L350.4 435.4 L351.9 435.4 L353.4 435.3 L354.9 435.3 L356.4 435.3 L357.9 435.2 L359.4 435.2 L360.9 435.1 L362.4 435.1 L363.9 435.1 L365.4 435.0 L366.9 435.0 L368.4 434.9 L369.9 434.9 L371.4 434.9 L372.9 434.8 L374.4 434.8 L375.9 434.7 L377.4 434.7 L378.9 434.7 L380.4 434.6 L381.9 434.6 L383.4 434.5 L384.9 434.5 L386.4 434.4 L387.9 434.4 L389.4 434.4 L390.9 434.3 L392.4 434.3 L393.9 434.2 L395.4 434.2 L396.9 434.1 L398.4 434.1 L399.9 434.1 L401.4 434.0 L402.9 434.0 L404.4 433.9 L405.9 433.9 L407.4 433.8 L408.9 433.8 L410.4 433.7 L411.9 433.7 L413.4 433.6 L414.9 433.5 L416.4 433.5 L417.9 433.4 L419.4 433.4 L420.9 433.3 L422.4 433.2 L423.8 433.2 L425.3 433.1 L426.8 433.0 L428.3 433.0 L429.8 432.9 L431.3 432.8 L432.8 432.8 L434.3 432.7 L435.8 432.6 L437.3 432.5 L438.7 432.4 L440.2 432.4 L441.7 432.3 L443.2 432.2" fill="none" stroke="#625c92" stroke-width="1.2" stroke-linecap="round" stroke-linejoin="round"/>
<path d="M98.1 606.6 L98.6 605.2 L99.1 603.8 L99.6 602.4 L100.2 601.0 L100.7 599.6 L101.2 598.3 L101.8 596.9 L102.4 595.5 L102.9 594.1 L103.5 592.7 L104.1 591.3 L104.7 589.9 L105.3 588.5 L106.0 587.2 L106.6 585.8 L107.2 584.4 L107.9 583.1 L108.6 581.7 L109.2 580.3 L109.9 579.0 L110.6 577.6 L111.3 576.3 L112.1 575.0 L112.8 573.6 L113.5 572.3 L114.3 571.0 L115.0 569.7 L115.8 568.3 L116.6 567.0 L117.4 565.7 L118.2 564.5 L119.0 563.2 L119.8 561.9 L120.7 560.6 L121.5 559.4 L122.4 558.1 L123.2 556.9 L124.1 555.7 L125.0 554.4 L125.9 553.2 L126.8 552.0 L127.7 550.8 L128.7 549.6 L129.6 548.5 L130.6 547.3 L131.6 546.1 L132.5 545.0 L133.5 543.9 L134.5 542.7 L135.5 541.6 L136.6 540.5 L137.6 539.5 L138.7 538.4 L139.7 537.3 L140.8 536.3 L141.9 535.2 L143.0 534.2 L144.1 533.2 L145.2 532.2 L146.3 531.2 L147.5 530.3 L148.6 529.3 L149.8 528.4 L151.0 527.4 L152.1 526.5 L153.3 525.6 L154.5 524.7 L155.8 523.9 L157.0 523.0 L158.2 522.2 L159.5 521.3 L160.7 520.5 L162.0 519.7 L163.2 518.9 L164.5 518.1 L165.8 517.3 L167.1 516.5 L168.4 515.8 L169.7 515.0 L171.0 514.3 L172.3 513.6 L173.6 512.9 L175.0 512.2 L176.3 511.5 L177.6 510.8 L179.0 510.1 L180.3 509.4 L181.7 508.8 L183.0 508.1 L184.4 507.5 L185.8 506.9 L187.1 506.2 L188.5 505.6 L189.9 505.0 L191.3 504.4 L192.6 503.8 L194.0 503.3 L195.4 502.7 L196.8 502.1 L198.2 501.6 L199.6 501.0 L201.0 500.5 L202.4 500.0 L203.8 499.4 L205.2 498.9 L206.6 498.4 L208.0 497.9 L209.4 497.4 L210.8 496.9 L212.2 496.5 L213.7 496.0 L215.1 495.5 L216.5 495.1 L217.9 494.6 L219.4 494.2 L220.8 493.7 L222.2 493.3 L223.7 492.9 L225.1 492.5 L226.5 492.1 L228.0 491.7 L229.4 491.3 L230.9 490.9 L232.3 490.5 L233.8 490.1 L235.2 489.8 L236.7 489.4 L238.1 489.0 L239.6 488.7 L241.0 488.3 L242.5 488.0 L243.9 487.7 L245.4 487.3 L246.9 487.0 L248.3 486.7 L249.8 486.4 L251.3 486.1 L252.7 485.8 L254.2 485.5 L255.7 485.2 L257.2 484.9 L258.6 484.7 L260.1 484.4 L261.6 484.1 L263.1 483.9 L264.6 483.6 L266.0 483.3 L267.5 483.1 L269.0 482.9 L270.5 482.6 L272.0 482.4 L273.5 482.2 L275.0 481.9 L276.5 481.7 L278.0 481.5 L279.5 481.3 L281.0 481.1 L282.5 480.9 L283.9 480.7 L285.4 480.5 L286.9 480.3 L288.4 480.1 L290.0 480.0 L291.5 479.8 L293.0 479.6 L294.5 479.4 L296.0 479.3 L297.5 479.1 L299.0 478.9 L300.5 478.8 L302.0 478.6 L303.5 478.5 L305.0 478.4 L306.5 478.2 L308.0 478.1 L309.5 477.9 L311.1 477.8 L312.6 477.7 L314.1 477.5 L315.6 477.4 L317.1 477.3 L318.6 477.2 L320.1 477.1 L321.7 477.0 L323.2 476.8 L324.7 476.7 L326.2 476.6 L327.7 476.5 L329.2 476.4 L330.8 476.3 L332.3 476.2 L333.8 476.1 L335.3 476.1 L336.8 476.0 L338.3 475.9 L339.9 475.8 L341.4 475.7 L342.9 475.6 L344.4 475.5 L345.9 475.5 L347.4 475.4 L349.0 475.3 L350.5 475.2 L352.0 475.2 L353.5 475.1 L355.0 475.0 L356.5 474.9 L358.0 474.9 L359.6 474.8 L361.1 474.7 L362.6 474.7 L364.1 474.6 L365.6 474.5 L367.1 474.5 L368.6 474.4 L370.2 474.3 L371.7 474.3 L373.2 474.2 L374.7 474.1 L376.2 474.1 L377.7 474.0 L379.2 474.0 L380.7 473.9 L382.2 473.8 L383.7 473.8 L385.2 473.7 L386.7 473.6 L388.3 473.6 L389.8 473.5 L391.3 473.5 L392.8 473.4 L394.3 473.3 L395.8 473.3 L397.3 473.2 L398.8 473.1 L400.3 473.1 L401.7 473.0 L403.2 472.9 L404.7 472.9 L406.2 472.8 L407.7 472.7 L409.2 472.6 L410.7 472.6 L412.2 472.5 L413.7 472.4 L415.1 472.3 L416.6 472.3 L418.1 472.2 L419.6 472.1 L421.1 472.0 L422.6 471.9 L424.0 471.8 L425.5 471.8 L427.0 471.7 L428.4 471.6 L429.9 471.5 L431.4 471.4 L432.8 471.3 L434.3 471.2 L435.8 471.1 L437.2 471.0 L438.7 470.9 L440.2 470.7 L441.6 470.6 L443.1 470.5" fill="none" stroke="#aa5ea6" stroke-width="1.2" stroke-linecap="round" stroke-linejoin="round"/>
<path d="M98.4 634.8 L98.8 633.4 L99.3 631.9 L99.7 630.5 L100.2 629.1 L100.7 627.6 L101.1 626.2 L101.6 624.8 L102.2 623.4 L102.7 621.9 L103.2 620.5 L103.8 619.1 L104.3 617.7 L104.9 616.3 L105.5 614.9 L106.1 613.5 L106.7 612.1 L107.3 610.7 L107.9 609.4 L108.5 608.0 L109.2 606.6 L109.8 605.3 L110.5 603.9 L111.2 602.6 L111.9 601.2 L112.6 599.9 L113.3 598.5 L114.0 597.2 L114.8 595.9 L115.5 594.6 L116.3 593.3 L117.1 592.0 L117.9 590.7 L118.7 589.4 L119.5 588.1 L120.3 586.9 L121.1 585.6 L122.0 584.4 L122.8 583.1 L123.7 581.9 L124.6 580.7 L125.5 579.5 L126.4 578.3 L127.3 577.1 L128.2 575.9 L129.1 574.7 L130.1 573.6 L131.0 572.4 L132.0 571.3 L133.0 570.1 L134.0 569.0 L135.0 567.9 L136.0 566.8 L137.1 565.7 L138.1 564.6 L139.2 563.6 L140.2 562.5 L141.3 561.5 L142.4 560.5 L143.5 559.4 L144.6 558.4 L145.7 557.4 L146.9 556.5 L148.0 555.5 L149.2 554.5 L150.3 553.6 L151.5 552.6 L152.7 551.7 L153.9 550.8 L155.1 549.9 L156.3 549.0 L157.5 548.1 L158.7 547.2 L159.9 546.4 L161.2 545.5 L162.4 544.7 L163.7 543.9 L164.9 543.0 L166.2 542.2 L167.5 541.4 L168.8 540.7 L170.1 539.9 L171.3 539.1 L172.6 538.4 L173.9 537.6 L175.3 536.9 L176.6 536.2 L177.9 535.5 L179.2 534.8 L180.5 534.1 L181.9 533.4 L183.2 532.7 L184.6 532.1 L185.9 531.4 L187.3 530.8 L188.6 530.2 L190.0 529.5 L191.3 528.9 L192.7 528.3 L194.1 527.7 L195.4 527.2 L196.8 526.6 L198.2 526.0 L199.5 525.5 L200.9 524.9 L202.3 524.4 L203.7 523.9 L205.1 523.4 L206.5 522.9 L207.9 522.4 L209.3 521.9 L210.7 521.4 L212.1 520.9 L213.5 520.5 L214.9 520.0 L216.3 519.6 L217.8 519.2 L219.2 518.7 L220.6 518.3 L222.0 517.9 L223.5 517.5 L224.9 517.1 L226.3 516.7 L227.8 516.3 L229.2 516.0 L230.7 515.6 L232.1 515.2 L233.5 514.9 L235.0 514.6 L236.4 514.2 L237.9 513.9 L239.4 513.6 L240.8 513.3 L242.3 513.0 L243.7 512.7 L245.2 512.4 L246.7 512.1 L248.1 511.8 L249.6 511.5 L251.1 511.3 L252.6 511.0 L254.0 510.8 L255.5 510.5 L257.0 510.3 L258.5 510.0 L260.0 509.8 L261.4 509.6 L262.9 509.4 L264.4 509.2 L265.9 508.9 L267.4 508.7 L268.9 508.5 L270.4 508.4 L271.9 508.2 L273.4 508.0 L274.9 507.8 L276.4 507.6 L277.9 507.5 L279.4 507.3 L280.9 507.2 L282.4 507.0 L283.9 506.9 L285.4 506.7 L286.9 506.6 L288.4 506.5 L289.9 506.3 L291.5 506.2 L293.0 506.1 L294.5 506.0 L296.0 505.9 L297.5 505.7 L299.0 505.6 L300.6 505.5 L302.1 505.4 L303.6 505.3 L305.1 505.3 L306.6 505.2 L308.1 505.1 L309.7 505.0 L311.2 504.9 L312.7 504.8 L314.2 504.8 L315.8 504.7 L317.3 504.6 L318.8 504.6 L320.3 504.5 L321.9 504.4 L323.4 504.4 L324.9 504.3 L326.4 504.3 L328.0 504.2 L329.5 504.2 L331.0 504.1 L332.5 504.1 L334.1 504.0 L335.6 504.0 L337.1 504.0 L338.6 503.9 L340.2 503.9 L341.7 503.8 L343.2 503.8 L344.7 503.8 L346.2 503.7 L347.8 503.7 L349.3 503.7 L350.8 503.7 L352.3 503.6 L353.9 503.6 L355.4 503.6 L356.9 503.5 L358.4 503.5 L359.9 503.5 L361.5 503.5 L363.0 503.4 L364.5 503.4 L366.0 503.4 L367.5 503.4 L369.0 503.3 L370.6 503.3 L372.1 503.3 L373.6 503.3 L375.1 503.2 L376.6 503.2 L378.1 503.2 L379.6 503.1 L381.1 503.1 L382.6 503.1 L384.1 503.0 L385.6 503.0 L387.1 503.0 L388.6 502.9 L390.1 502.9 L391.6 502.9 L393.1 502.8 L394.6 502.8 L396.1 502.7 L397.6 502.7 L399.1 502.6 L400.6 502.6 L402.1 502.5 L403.6 502.5 L405.0 502.4 L406.5 502.4 L408.0 502.3 L409.5 502.2 L410.9 502.2 L412.4 502.1 L413.9 502.0 L415.4 502.0 L416.8 501.9 L418.3 501.8 L419.8 501.7 L421.2 501.6 L422.7 501.5 L424.1 501.4 L425.6 501.4 L427.0 501.3 L428.5 501.1 L429.9 501.0 L431.4 500.9 L432.8 500.8 L434.3 500.7 L435.7 500.6 L437.1 500.4 L438.6 500.3 L440.0 500.2 L441.4 500.0 L442.9 499.9" fill="none" stroke="#e99d55" stroke-width="1.2" stroke-linecap="round" stroke-linejoin="round"/>
<path d="M98.2 685.3 L98.5 683.7 L98.9 682.2 L99.3 680.6 L99.6 679.1 L100.0 677.6 L100.4 676.1 L100.9 674.6 L101.3 673.1 L101.8 671.6 L102.3 670.1 L102.8 668.6 L103.3 667.2 L103.8 665.7 L104.3 664.3 L104.9 662.8 L105.4 661.4 L106.0 660.0 L106.6 658.6 L107.2 657.2 L107.8 655.8 L108.5 654.4 L109.1 653.0 L109.8 651.7 L110.5 650.3 L111.2 648.9 L111.9 647.6 L112.6 646.3 L113.3 645.0 L114.1 643.6 L114.9 642.3 L115.6 641.0 L116.4 639.8 L117.2 638.5 L118.0 637.2 L118.9 636.0 L119.7 634.7 L120.6 633.5 L121.4 632.2 L122.3 631.0 L123.2 629.8 L124.1 628.6 L125.0 627.4 L125.9 626.2 L126.8 625.1 L127.8 623.9 L128.7 622.8 L129.7 621.6 L130.7 620.5 L131.7 619.4 L132.7 618.3 L133.7 617.2 L134.7 616.1 L135.7 615.0 L136.8 613.9 L137.8 612.9 L138.9 611.8 L140.0 610.8 L141.1 609.7 L142.2 608.7 L143.3 607.7 L144.4 606.7 L145.5 605.7 L146.6 604.8 L147.8 603.8 L148.9 602.9 L150.1 601.9 L151.2 601.0 L152.4 600.1 L153.6 599.2 L154.8 598.3 L156.0 597.4 L157.2 596.5 L158.4 595.6 L159.6 594.8 L160.9 594.0 L162.1 593.1 L163.4 592.3 L164.6 591.5 L165.9 590.7 L167.1 589.9 L168.4 589.2 L169.7 588.4 L171.0 587.7 L172.3 586.9 L173.6 586.2 L174.9 585.5 L176.2 584.8 L177.5 584.1 L178.9 583.4 L180.2 582.8 L181.6 582.1 L182.9 581.5 L184.3 580.9 L185.6 580.2 L187.0 579.6 L188.4 579.1 L189.7 578.5 L191.1 577.9 L192.5 577.4 L193.9 576.8 L195.3 576.3 L196.7 575.8 L198.1 575.3 L199.5 574.8 L200.9 574.3 L202.3 573.8 L203.8 573.3 L205.2 572.9 L206.6 572.4 L208.1 572.0 L209.5 571.6 L210.9 571.1 L212.4 570.7 L213.8 570.3 L215.3 569.9 L216.8 569.6 L218.2 569.2 L219.7 568.8 L221.1 568.5 L222.6 568.1 L224.1 567.8 L225.6 567.5 L227.0 567.2 L228.5 566.8 L230.0 566.5 L231.5 566.2 L233.0 566.0 L234.5 565.7 L236.0 565.4 L237.4 565.1 L238.9 564.9 L240.4 564.6 L241.9 564.4 L243.4 564.2 L244.9 563.9 L246.4 563.7 L247.9 563.5 L249.4 563.3 L250.9 563.1 L252.4 562.9 L254.0 562.7 L255.5 562.5 L257.0 562.3 L258.5 562.1 L260.0 562.0 L261.5 561.8 L263.0 561.6 L264.5 561.5 L266.0 561.3 L267.5 561.2 L269.0 561.0 L270.5 560.9 L272.0 560.8 L273.5 560.6 L275.1 560.5 L276.6 560.4 L278.1 560.3 L279.6 560.1 L281.1 560.0 L282.6 559.9 L284.1 559.8 L285.6 559.7 L287.1 559.6 L288.6 559.6 L290.1 559.5 L291.6 559.4 L293.1 559.3 L294.6 559.3 L296.1 559.2 L297.7 559.1 L299.2 559.1 L300.7 559.0 L302.2 558.9 L303.7 558.9 L305.2 558.8 L306.7 558.8 L308.2 558.8 L309.7 558.7 L311.2 558.7 L312.7 558.7 L314.2 558.6 L315.7 558.6 L317.2 558.6 L318.7 558.6 L320.2 558.5 L321.7 558.5 L323.2 558.5 L324.7 558.5 L326.2 558.5 L327.8 558.5 L329.3 558.5 L330.8 558.5 L332.3 558.5 L333.8 558.5 L335.3 558.5 L336.8 558.5 L338.3 558.5 L339.8 558.6 L341.3 558.6 L342.8 558.6 L344.3 558.6 L345.8 558.6 L347.3 558.7 L348.8 558.7 L350.3 558.7 L351.8 558.7 L353.3 558.8 L354.8 558.8 L356.3 558.8 L357.8 558.9 L359.3 558.9 L360.8 559.0 L362.3 559.0 L363.8 559.0 L365.3 559.1 L366.8 559.1 L368.3 559.2 L369.8 559.2 L371.3 559.3 L372.8 559.3 L374.3 559.3 L375.8 559.4 L377.3 559.4 L378.8 559.5 L380.3 559.5 L381.8 559.6 L383.3 559.7 L384.8 559.7 L386.4 559.8 L387.9 559.8 L389.4 559.9 L390.9 559.9 L392.4 560.0 L393.9 560.0 L395.4 560.1 L396.9 560.1 L398.4 560.2 L399.9 560.2 L401.4 560.3 L402.9 560.4 L404.4 560.4 L405.9 560.5 L407.4 560.5 L408.8 560.6 L410.3 560.6 L411.8 560.7 L413.3 560.7 L414.8 560.8 L416.3 560.8 L417.8 560.9 L419.3 560.9 L420.8 561.0 L422.3 561.0 L423.8 561.1 L425.3 561.1 L426.8 561.2 L428.3 561.2 L429.8 561.2 L431.3 561.3 L432.8 561.3 L434.3 561.4 L435.8 561.4 L437.3 561.4 L438.8 561.5 L440.3 561.5 L441.8 561.5 L443.3 561.6" fill="none" stroke="#c93a80" stroke-width="1.2" stroke-linecap="round" stroke-linejoin="round"/>
<path d="M659.84 539.79 L715.17 545.81 L770.5 569.88 L825.84 595.35 L881.17 620.81 L936.51 644.89 L991.85 667.58" fill="none" stroke="#4f8068" stroke-width="1.4" stroke-dasharray="3.1 4.4"/>
<path d="M641.39 557.38 L678.28 554.14 L715.17 575.44 L752.06 599.52 L788.95 624.05 L825.84 647.2 L862.73 669.89" fill="none" stroke="#656a86" stroke-width="1.4" stroke-dasharray="3.1 4.4"/>
<path d="M622.95 582.38 L641.39 574.51 L659.84 591.64 L678.28 609.24 L696.73 633.78 L715.17 652.3 L733.62 674.06" fill="none" stroke="#1a1a1a" stroke-width="2.3" stroke-dasharray="0 6.2" stroke-linecap="round"/>
<g fill="#fff" stroke="#438669" stroke-width="1.35"><circle cx="659.84" cy="539.79" r="4.2"/><circle cx="715.17" cy="545.81" r="4.2"/><circle cx="770.5" cy="569.88" r="4.2"/><circle cx="825.84" cy="595.35" r="4.2"/><circle cx="881.17" cy="620.81" r="4.2"/><circle cx="936.51" cy="644.89" r="4.2"/><circle cx="991.85" cy="667.58" r="4.2"/></g>
<g fill="#fff" stroke="#56659a" stroke-width="1.35"><circle cx="641.39" cy="557.38" r="4.2"/><circle cx="678.28" cy="554.14" r="4.2"/><circle cx="715.17" cy="575.44" r="4.2"/><circle cx="752.06" cy="599.52" r="4.2"/><circle cx="788.95" cy="624.05" r="4.2"/><circle cx="825.84" cy="647.2" r="4.2"/><circle cx="862.73" cy="669.89" r="4.2"/></g>
<g fill="#fff" stroke="#2b2b2b" stroke-width="1.35"><circle cx="622.95" cy="582.38" r="4.2"/><circle cx="641.39" cy="574.51" r="4.2"/><circle cx="659.84" cy="591.64" r="4.2"/><circle cx="678.28" cy="609.24" r="4.2"/><circle cx="696.73" cy="633.78" r="4.2"/><circle cx="715.17" cy="652.3" r="4.2"/><circle cx="733.62" cy="674.06" r="4.2"/></g>
<path d="M659.2 522.6 L660.7 521.9 L662.1 521.2 L663.6 520.6 L665.0 520.0 L666.5 519.5 L668.0 518.9 L669.4 518.5 L670.9 518.1 L672.3 517.7 L673.8 517.4 L675.3 517.1 L676.7 516.8 L678.2 516.6 L679.7 516.4 L681.1 516.2 L682.6 516.1 L684.0 516.0 L685.5 516.0 L687.0 515.9 L688.4 515.9 L689.9 516.0 L691.4 516.0 L692.8 516.1 L694.3 516.3 L695.7 516.4 L697.2 516.6 L698.7 516.8 L700.1 517.0 L701.6 517.2 L703.0 517.5 L704.4 517.8 L705.9 518.1 L707.3 518.4 L708.8 518.7 L710.2 519.1 L711.6 519.4 L713.1 519.8 L714.5 520.2 L715.9 520.7 L717.3 521.1 L718.7 521.6 L720.2 522.0 L721.6 522.5 L723.0 523.0 L724.4 523.5 L725.8 524.0 L727.2 524.6 L728.6 525.1 L730.0 525.7 L731.4 526.3 L732.8 526.8 L734.2 527.4 L735.6 528.0 L737.0 528.6 L738.4 529.2 L739.8 529.9 L741.2 530.5 L742.5 531.1 L743.9 531.8 L745.3 532.4 L746.7 533.1 L748.1 533.7 L749.4 534.4 L750.8 535.1 L752.2 535.8 L753.6 536.4 L754.9 537.1 L756.3 537.8 L757.7 538.5 L759.0 539.2 L760.4 539.8 L761.8 540.5 L763.1 541.2 L764.5 541.9 L765.9 542.6 L767.2 543.3 L768.6 543.9 L769.9 544.6 L771.3 545.3 L772.7 546.0 L774.0 546.7 L775.4 547.4 L776.7 548.1 L778.1 548.8 L779.4 549.5 L780.8 550.2 L782.1 550.8 L783.5 551.5 L784.8 552.2 L786.2 552.9 L787.5 553.6 L788.9 554.3 L790.2 555.0 L791.6 555.7 L792.9 556.4 L794.2 557.1 L795.6 557.8 L796.9 558.5 L798.3 559.2 L799.6 559.9 L800.9 560.6 L802.3 561.3 L803.6 562.0 L804.9 562.7 L806.3 563.4 L807.6 564.1 L808.9 564.8 L810.3 565.5 L811.6 566.2 L812.9 567.0 L814.3 567.7 L815.6 568.4 L816.9 569.1 L818.2 569.8 L819.6 570.5 L820.9 571.2 L822.2 571.9 L823.5 572.6 L824.9 573.3 L826.2 574.1 L827.5 574.8 L828.8 575.5 L830.2 576.2 L831.5 576.9 L832.8 577.6 L834.1 578.3 L835.4 579.1 L836.8 579.8 L838.1 580.5 L839.4 581.2 L840.7 581.9 L842.0 582.6 L843.3 583.4 L844.7 584.1 L846.0 584.8 L847.3 585.5 L848.6 586.2 L849.9 587.0 L851.2 587.7 L852.5 588.4 L853.9 589.1 L855.2 589.9 L856.5 590.6 L857.8 591.3 L859.1 592.0 L860.4 592.8 L861.7 593.5 L863.0 594.2 L864.3 594.9 L865.6 595.7 L866.9 596.4 L868.3 597.1 L869.6 597.9 L870.9 598.6 L872.2 599.3 L873.5 600.0 L874.8 600.8 L876.1 601.5 L877.4 602.2 L878.7 603.0 L880.0 603.7 L881.3 604.4 L882.6 605.2 L883.9 605.9 L885.2 606.6 L886.5 607.4 L887.8 608.1 L889.1 608.9 L890.4 609.6 L891.7 610.3 L893.0 611.1 L894.3 611.8 L895.6 612.5 L896.9 613.3 L898.2 614.0 L899.5 614.8 L900.9 615.5 L902.2 616.2 L903.5 617.0 L904.8 617.7 L906.1 618.5 L907.4 619.2 L908.7 620.0 L910.0 620.7 L911.3 621.5 L912.6 622.2 L913.9 622.9 L915.2 623.7 L916.5 624.4 L917.8 625.2 L919.1 625.9 L920.4 626.7 L921.7 627.4 L923.0 628.2 L924.3 628.9 L925.6 629.7 L926.9 630.4 L928.2 631.2 L929.5 631.9 L930.8 632.7 L932.1 633.4 L933.4 634.2 L934.7 634.9 L936.0 635.7 L937.3 636.4 L938.6 637.2 L939.9 637.9 L941.2 638.7 L942.5 639.5 L943.8 640.2 L945.1 641.0 L946.4 641.7 L947.7 642.5 L949.0 643.2 L950.3 644.0 L951.6 644.7 L952.9 645.5 L954.2 646.3 L955.6 647.0 L956.9 647.8 L958.2 648.5 L959.5 649.3 L960.8 650.1 L962.1 650.8 L963.4 651.6 L964.7 652.3 L966.0 653.1 L967.3 653.9 L968.6 654.6 L969.9 655.4 L971.2 656.2 L972.6 656.9 L973.9 657.7 L975.2 658.4 L976.5 659.2 L977.8 660.0 L979.1 660.7 L980.4 661.5 L981.7 662.3 L983.1 663.0 L984.4 663.8 L985.7 664.6 L987.0 665.3 L988.3 666.1 L989.6 666.9 L991.0 667.6" fill="none" stroke="#2e7d5c" stroke-width="1.2" stroke-linecap="round" stroke-linejoin="round"/>
<path d="M640.5 542.0 L641.5 540.6 L642.5 539.4 L643.6 538.2 L644.7 537.1 L645.9 536.1 L647.1 535.2 L648.4 534.4 L649.7 533.6 L651.0 533.0 L652.3 532.4 L653.7 531.9 L655.0 531.4 L656.4 531.1 L657.9 530.7 L659.3 530.5 L660.7 530.3 L662.2 530.2 L663.6 530.1 L665.1 530.0 L666.6 530.0 L668.0 530.1 L669.5 530.2 L671.0 530.3 L672.4 530.5 L673.8 530.7 L675.3 530.9 L676.7 531.1 L678.1 531.4 L679.5 531.8 L680.9 532.1 L682.3 532.5 L683.7 532.9 L685.1 533.4 L686.5 533.8 L687.9 534.3 L689.2 534.9 L690.6 535.4 L691.9 536.0 L693.3 536.6 L694.6 537.2 L695.9 537.8 L697.3 538.5 L698.6 539.2 L699.9 539.9 L701.2 540.6 L702.5 541.4 L703.8 542.1 L705.1 542.9 L706.4 543.7 L707.7 544.5 L709.0 545.3 L710.3 546.2 L711.5 547.0 L712.8 547.9 L714.0 548.8 L715.3 549.7 L716.6 550.6 L717.8 551.5 L719.0 552.4 L720.3 553.3 L721.5 554.3 L722.8 555.2 L724.0 556.1 L725.2 557.1 L726.4 558.0 L727.6 559.0 L728.9 560.0 L730.1 560.9 L731.3 561.9 L732.5 562.9 L733.7 563.8 L734.9 564.8 L736.1 565.7 L737.3 566.7 L738.4 567.7 L739.6 568.6 L740.8 569.6 L742.0 570.6 L743.2 571.6 L744.3 572.5 L745.5 573.5 L746.7 574.5 L747.8 575.4 L749.0 576.4 L750.2 577.4 L751.3 578.3 L752.5 579.3 L753.7 580.3 L754.8 581.2 L756.0 582.2 L757.1 583.2 L758.3 584.2 L759.4 585.1 L760.5 586.1 L761.7 587.1 L762.8 588.0 L764.0 589.0 L765.1 590.0 L766.2 591.0 L767.4 591.9 L768.5 592.9 L769.7 593.9 L770.8 594.8 L771.9 595.8 L773.0 596.8 L774.2 597.8 L775.3 598.7 L776.4 599.7 L777.6 600.7 L778.7 601.7 L779.8 602.6 L780.9 603.6 L782.0 604.6 L783.2 605.5 L784.3 606.5 L785.4 607.5 L786.5 608.5 L787.7 609.4 L788.8 610.4 L789.9 611.4 L791.0 612.4 L792.1 613.3 L793.2 614.3 L794.4 615.3 L795.5 616.2 L796.6 617.2 L797.7 618.2 L798.8 619.2 L800.0 620.1 L801.1 621.1 L802.2 622.1 L803.3 623.1 L804.5 624.0 L805.6 625.0 L806.7 626.0 L807.8 626.9 L808.9 627.9 L810.1 628.9 L811.2 629.9 L812.3 630.8 L813.5 631.8 L814.6 632.8 L815.7 633.7 L816.8 634.7 L818.0 635.7 L819.1 636.7 L820.2 637.6 L821.4 638.6 L822.5 639.6 L823.7 640.5 L824.8 641.5 L825.9 642.5 L827.1 643.4 L828.2 644.4 L829.4 645.4 L830.5 646.3 L831.7 647.3 L832.8 648.3 L834.0 649.2 L835.1 650.2 L836.3 651.2 L837.5 652.1 L838.6 653.1 L839.8 654.1 L841.0 655.0 L842.1 656.0 L843.3 657.0 L844.5 657.9 L845.7 658.9 L846.8 659.8 L848.0 660.8 L849.2 661.8 L850.4 662.7 L851.6 663.7 L852.8 664.7 L854.0 665.6 L855.2 666.6 L856.4 667.5 L857.6 668.5 L858.8 669.4 L860.0 670.4 L861.2 671.4" fill="none" stroke="#4b5793" stroke-width="1.2" stroke-linecap="round" stroke-linejoin="round"/>
<path d="M624.1 585.8 L623.9 584.5 L623.8 583.1 L623.8 581.6 L623.9 580.1 L624.1 578.6 L624.4 577.0 L624.7 575.4 L625.1 573.8 L625.6 572.2 L626.1 570.6 L626.8 569.1 L627.5 567.6 L628.3 566.1 L629.1 564.8 L630.1 563.5 L631.1 562.4 L632.1 561.3 L633.3 560.4 L634.5 559.7 L635.7 559.0 L637.0 558.6 L638.4 558.2 L639.7 558.0 L641.0 558.0 L642.4 558.1 L643.7 558.3 L644.9 558.6 L646.1 559.1 L647.4 559.7 L648.5 560.4 L649.7 561.2 L650.8 562.0 L651.9 563.0 L653.0 564.0 L654.1 565.0 L655.2 566.1 L656.2 567.3 L657.3 568.5 L658.3 569.7 L659.3 570.9 L660.3 572.1 L661.3 573.3 L662.3 574.6 L663.3 575.8 L664.3 577.0 L665.2 578.2 L666.2 579.4 L667.2 580.7 L668.1 581.9 L669.0 583.1 L670.0 584.3 L670.9 585.6 L671.8 586.8 L672.7 588.0 L673.7 589.3 L674.6 590.5 L675.5 591.7 L676.3 592.9 L677.2 594.2 L678.1 595.4 L679.0 596.6 L679.9 597.9 L680.7 599.1 L681.6 600.4 L682.4 601.6 L683.3 602.8 L684.1 604.1 L685.0 605.3 L685.8 606.6 L686.7 607.8 L687.5 609.0 L688.3 610.3 L689.1 611.5 L690.0 612.8 L690.8 614.0 L691.6 615.3 L692.4 616.5 L693.2 617.8 L694.0 619.0 L694.8 620.3 L695.6 621.5 L696.4 622.8 L697.2 624.1 L698.0 625.3 L698.8 626.6 L699.5 627.8 L700.3 629.1 L701.1 630.4 L701.9 631.6 L702.7 632.9 L703.4 634.1 L704.2 635.4 L705.0 636.7 L705.8 638.0 L706.5 639.2 L707.3 640.5 L708.1 641.8 L708.8 643.0 L709.6 644.3 L710.4 645.6 L711.1 646.9 L711.9 648.2 L712.7 649.4 L713.4 650.7 L714.2 652.0 L715.0 653.3 L715.8 654.6 L716.5 655.9 L717.3 657.1 L718.1 658.4 L718.8 659.7 L719.6 661.0 L720.4 662.3 L721.2 663.6 L722.0 664.9 L722.7 666.2 L723.5 667.5 L724.3 668.8 L725.1 670.1 L725.9 671.4 L726.7 672.7 L727.5 674.0 L728.3 675.3 L729.1 676.7 L729.9 678.0 L730.7 679.3 L731.5 680.6 L732.3 681.9 L733.1 683.2 L733.9 684.6" fill="none" stroke="#262626" stroke-width="1.2" stroke-linecap="round" stroke-linejoin="round"/>
</svg></body></html>
